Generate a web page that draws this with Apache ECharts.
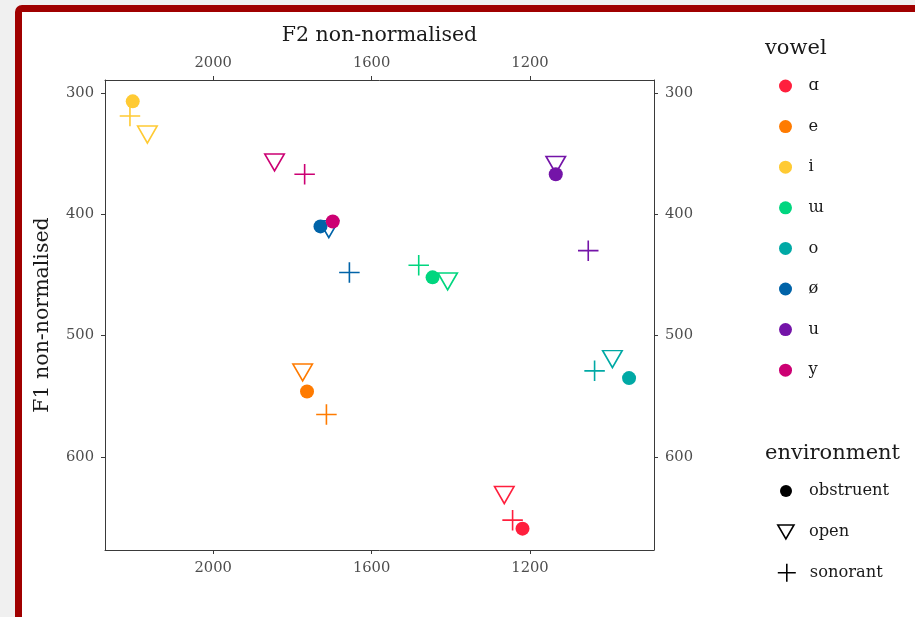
<!DOCTYPE html>
<html>
<head>
<meta charset="utf-8">
<script src="https://cdn.jsdelivr.net/npm/echarts@6/dist/echarts.min.js"></script>
<style>
  html, body { margin: 0; padding: 0; background: #f0f0f0; overflow: hidden; }
  #card {
    position: absolute; left: 15px; top: 5px; width: 1000px; height: 700px;
    border: 7px solid #a00000; border-radius: 7px; background: #ffffff; box-sizing: border-box;
  }
  #chart { position: absolute; left: 0; top: 0; width: 915px; height: 617px; }
</style>
</head>
<body>
<div id="card"></div>
<div id="chart"></div>
<script>
// Vowel formant means (Hz) by phonetic environment
const vowels = ['ɑ', 'e', 'i', 'ɯ', 'o', 'ø', 'u', 'y'];
const vowelColors = ['#ff1f3d', '#ff7b00', '#ffca33', '#00d67f', '#00a9a5', '#0063a8', '#7414a8', '#cc0073'];
const environments = ['obstruent', 'open', 'sonorant'];

const f2Obstruent = [1219, 1763, 2203, 1446, 950, 1729, 1135, 1698];
const f1Obstruent = [659, 546, 307, 452, 535, 410, 367, 406];
const f2Open      = [1265, 1774, 2166, 1408, 992, 1708, 1135, 1845];
const f1Open      = [629, 528, 332, 453, 517, 410, 357, 355];
const f2Sonorant  = [1244, 1714, 2210, 1481, 1037, 1656, 1053, 1769];
const f1Sonorant  = [652, 565, 319, 442, 529, 448, 430, 367];

const f2Ticks = [2000, 1600, 1200];
const f1Ticks = [300, 400, 500, 600];

const FONT = 'DejaVu Serif';
const TRIANGLE_DOWN = 'path://M0,0 L2,0 L1,1.732 Z';
const PLUS = 'path://M1,0 L1,2 M0,1 L2,1';
const STROKE = 1.6;

function vowelItems(i) {
  const c = vowelColors[i];
  return [
    { value: [f2Open[i], f1Open[i]], symbol: TRIANGLE_DOWN, symbolSize: [19.5, 16.9], symbolOffset: [0, 2.8],
      itemStyle: { color: 'transparent', borderColor: c, borderWidth: STROKE, opacity: 1 } },
    { value: [f2Sonorant[i], f1Sonorant[i]], symbol: PLUS, symbolSize: [20.5, 20.5],
      itemStyle: { color: 'transparent', borderColor: c, borderWidth: STROKE, opacity: 1 } },
    { value: [f2Obstruent[i], f1Obstruent[i]], symbol: 'circle', symbolSize: 14,
      itemStyle: { color: c, borderWidth: 0, opacity: 1 } }
  ];
}

const series = vowels.map((v, i) => ({
  name: v,
  type: 'scatter',
  xAxisIndex: 0,
  yAxisIndex: 0,
  color: vowelColors[i],
  itemStyle: { opacity: 1 },
  emphasis: { disabled: true },
  data: vowelItems(i)
}));

// empty series that carry the environment legend entries
const envStyles = {
  obstruent: { icon: 'circle', itemStyle: { color: '#000', borderWidth: 0, opacity: 1 } },
  open: { icon: TRIANGLE_DOWN, itemStyle: { color: 'transparent', borderColor: '#000', borderWidth: STROKE, opacity: 1 } },
  sonorant: { icon: PLUS, itemStyle: { color: 'transparent', borderColor: '#000', borderWidth: STROKE, opacity: 1 } }
};
environments.forEach(e => {
  series.push({ name: e, type: 'scatter', color: '#000', data: [], symbol: envStyles[e].icon, itemStyle: envStyles[e].itemStyle });
});

const axisLine = { show: true, lineStyle: { color: '#3a3a3a', width: 1 } };
const tickLabel = { fontFamily: FONT, fontSize: 14.7, color: '#4d4d4d', formatter: v => String(v) };
const legendText = { fontFamily: FONT, fontSize: 16.3, color: '#1a1a1a', lineHeight: 16 };

function xAxis(position, withName) {
  return {
    type: 'value', position: position, inverse: true, min: 887, max: 2273,
    axisLine: axisLine,
    axisTick: { show: true, length: 4, lineStyle: { color: '#3a3a3a' }, customValues: f2Ticks },
    axisLabel: Object.assign({ margin: withName ? 9 : 11, customValues: f2Ticks }, tickLabel),
    splitLine: { show: false },
    name: withName ? 'F2 non-normalised' : '',
    nameLocation: 'middle', nameGap: 34,
    nameTextStyle: { fontFamily: FONT, fontSize: 20.5, color: '#1a1a1a' }
  };
}
function yAxis(position, withName) {
  return {
    type: 'value', position: position, inverse: true, min: 289.4, max: 676.6,
    axisLine: axisLine,
    axisTick: { show: true, length: 4, lineStyle: { color: '#3a3a3a' }, customValues: f1Ticks },
    axisLabel: Object.assign({ margin: 11, customValues: f1Ticks }, tickLabel),
    splitLine: { show: false },
    name: withName ? 'F1 non-normalised' : '',
    nameLocation: 'middle', nameGap: 52,
    nameTextStyle: { fontFamily: FONT, fontSize: 20.5, color: '#1a1a1a' }
  };
}

function envLegend(name, left, top, h) {
  return {
    data: [{ name: name, icon: envStyles[name].icon, itemStyle: envStyles[name].itemStyle }],
    orient: 'vertical', left: left, top: top, padding: 0,
    itemWidth: 36, itemHeight: h, itemGap: 0,
    selectedMode: false, textStyle: legendText
  };
}

const option = {
  animation: false,
  backgroundColor: 'transparent',
  title: [
    { text: 'vowel', left: 765, top: 38, padding: 0,
      textStyle: { fontFamily: FONT, fontSize: 21, fontWeight: 'normal', color: '#1a1a1a' } },
    { text: 'environment', left: 765, top: 443, padding: 0,
      textStyle: { fontFamily: FONT, fontSize: 21, fontWeight: 'normal', color: '#1a1a1a' } }
  ],
  grid: { left: 105, right: 261, top: 80, bottom: 67, containLabel: false },
  xAxis: [xAxis('bottom', false), xAxis('top', true)],
  yAxis: [yAxis('left', true), yAxis('right', false)],
  legend: [
    {
      data: vowels.map(v => ({ name: v, icon: 'circle', itemStyle: { opacity: 1 } })),
      orient: 'vertical', left: 779, top: 78, padding: 0,
      itemWidth: 36, itemHeight: 13, itemGap: 24.6,
      selectedMode: false, textStyle: legendText
    },
    envLegend('obstruent', 780, 483, 12),
    envLegend('open', 777, 524, 14),
    envLegend('sonorant', 777, 563, 18)
  ],
  series: series
};

const chart = echarts.init(document.getElementById('chart'), null, { renderer: 'canvas' });
chart.setOption(option);
</script>
</body>
</html>
